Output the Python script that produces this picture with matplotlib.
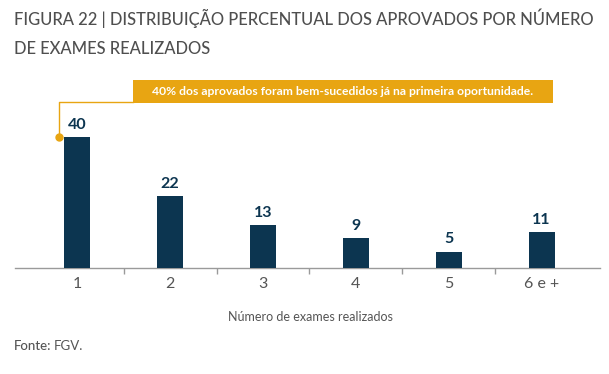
import matplotlib.pyplot as plt
from matplotlib.patches import FancyBboxPatch

plt.rcParams['font.family'] = ['Lato', 'DejaVu Sans']

categories = ['1', '2', '3', '4', '5', '6 e +']
values = [40, 22, 13, 9, 5, 11]
title = 'FIGURA 22 | DISTRIBUIÇÃO PERCENTUAL DOS APROVADOS POR NÚMERO\nDE EXAMES REALIZADOS'
note = '40% dos aprovados foram bem-sucedidos já na primeira oportunidade.'

navy = '#0c3550'
orange = '#e8a512'
gray = '#4f4f4f'

W, H = 609, 374
fig = plt.figure(figsize=(W / 100, H / 100), dpi=100)

# axes: left 15px, right 600px, baseline at y=268
y0, ytop = 268, 104
ax = fig.add_axes([15 / W, (H - y0) / H, 585 / W, (y0 - ytop) / H])
x = list(range(len(categories)))
ax.bar(x, values, width=0.28, color=navy, zorder=3)
ax.set_xlim(-0.67, 5.63)
ax.set_ylim(0, 50)

for xi, v in zip(x, values):
    ax.text(xi, v + 1.6, str(v), ha='center', va='bottom', fontsize=11.5,
            fontweight='bold', color=navy)

for s in ['top', 'right', 'left']:
    ax.spines[s].set_visible(False)
ax.spines['bottom'].set_color('#9a9a9a')
ax.spines['bottom'].set_linewidth(1.0)
ax.set_yticks([])
ax.set_xticks([i + 0.5 for i in range(5)])
ax.set_xticklabels([])
ax.tick_params(axis='x', length=4, color='#9a9a9a', width=1, direction='out')
for xi, c in zip(x, categories):
    ax.text(xi, -5, c, ha='center', va='center', fontsize=11.5,
            color='#555555', clip_on=False)
fig.text(310 / W, 1 - 317 / H, 'Número de exames realizados', ha='center',
         va='center', fontsize=9, color='#555555')

# title and source
fig.text(14 / W, 1 - 9 / H, title, ha='left', va='top', fontsize=11.9,
         color=gray, linespacing=1.95, fontweight='medium')
fig.text(14 / W, 1 - 346 / H, 'Fonte:', ha='left', va='center', fontsize=9.5,
         color='#555555', fontweight='medium')
fig.text(54 / W, 1 - 346 / H, 'FGV.', ha='left', va='center', fontsize=9.5,
         color='#555555')

# callout box
bx0, bx1, by0, by1 = 133, 553, 80, 103
box = FancyBboxPatch((bx0 / W, 1 - by1 / H), (bx1 - bx0) / W, (by1 - by0) / H,
                     boxstyle='square,pad=0', transform=fig.transFigure,
                     facecolor=orange, edgecolor='none')
fig.patches.append(box)
fig.text((bx0 + bx1) / 2 / W, 1 - (by0 + by1) / 2 / H, note, ha='center',
         va='center', fontsize=8.7, color='white', fontweight='bold')
fig.add_artist(plt.Line2D([bx0 / W, 59 / W, 59 / W],
                          [1 - 102 / H, 1 - 102 / H, 1 - 137 / H],
                          transform=fig.transFigure, color=orange, lw=1))
fig.add_artist(plt.Line2D([59 / W], [1 - 137 / H], transform=fig.transFigure,
                          marker='o', markersize=5, color=orange))

fig.savefig('out.png', dpi=100, facecolor='white')
